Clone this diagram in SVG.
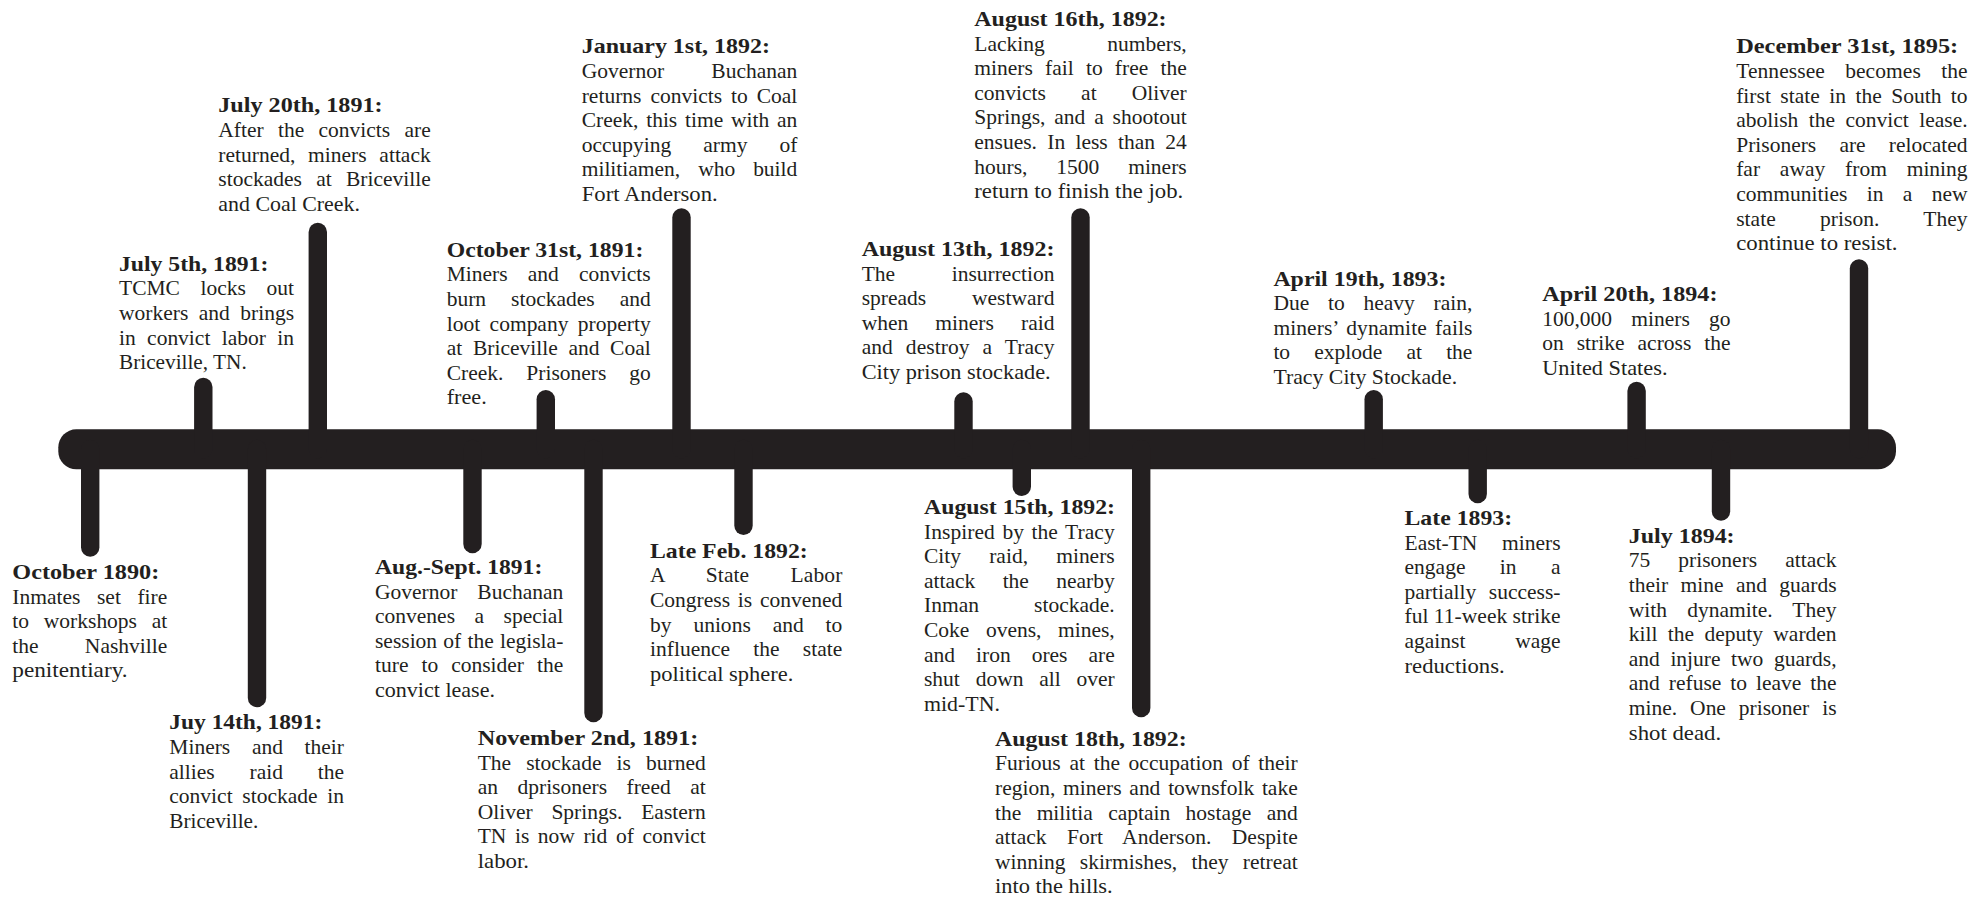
<svg xmlns="http://www.w3.org/2000/svg" width="1983" height="897" viewBox="0 0 1983 897">
<style>
text{font-family:'Liberation Serif','Times New Roman',serif;font-size:21.5px;fill:#231f20}
.h{font-weight:bold}
.tick{stroke:#231f20;stroke-width:18.4;stroke-linecap:round;fill:none}
</style>
<rect width="1983" height="897" fill="#ffffff"/>
<g id="connectors">
<rect id="bar" x="58.3" y="429.3" width="1837.7" height="40" rx="18" ry="18" fill="#231f20"/>
<line class="tick" x1="203.3" y1="386.9" x2="203.3" y2="449"/>
<line class="tick" x1="317.8" y1="231.9" x2="317.8" y2="449"/>
<line class="tick" x1="545.8" y1="399.2" x2="545.8" y2="449"/>
<line class="tick" x1="681.5" y1="217.5" x2="681.5" y2="449"/>
<line class="tick" x1="963.5" y1="401.5" x2="963.5" y2="449"/>
<line class="tick" x1="1080.5" y1="217.5" x2="1080.5" y2="449"/>
<line class="tick" x1="1373.7" y1="399.2" x2="1373.7" y2="449"/>
<line class="tick" x1="1636.6" y1="390.9" x2="1636.6" y2="449"/>
<line class="tick" x1="1859" y1="268.5" x2="1859" y2="449"/>
<line class="tick" x1="90.2" y1="449" x2="90.2" y2="547.5"/>
<line class="tick" x1="257" y1="449" x2="257" y2="698.1"/>
<line class="tick" x1="472.5" y1="449" x2="472.5" y2="544.1"/>
<line class="tick" x1="593.5" y1="449" x2="593.5" y2="713.1"/>
<line class="tick" x1="743.5" y1="449" x2="743.5" y2="525.8"/>
<line class="tick" x1="1021.8" y1="449" x2="1021.8" y2="486.8"/>
<line class="tick" x1="1141.2" y1="449" x2="1141.2" y2="708.1"/>
<line class="tick" x1="1477.7" y1="449" x2="1477.7" y2="494.1"/>
<line class="tick" x1="1721" y1="449" x2="1721" y2="511.5"/>
</g>

<g id="oct-1890">
<text class="h" x="12.3" y="579" textLength="147" lengthAdjust="spacingAndGlyphs">October 1890:</text>
<text x="12.3" y="603.6" textLength="155" lengthAdjust="spacing" style="word-spacing:11.2px">Inmates set fire</text>
<text x="12.3" y="628.2" textLength="155" lengthAdjust="spacing" style="word-spacing:9.4px">to workshops at</text>
<text x="12.3" y="652.8" textLength="155" lengthAdjust="spacing" style="word-spacing:40.9px">the Nashville</text>
<text x="12.3" y="677.4" textLength="115.3" lengthAdjust="spacingAndGlyphs">penitentiary.</text>
</g>

<g id="jul-14-1891">
<text class="h" x="169.3" y="729.3" textLength="153" lengthAdjust="spacingAndGlyphs">Juy 14th, 1891:</text>
<text x="169.3" y="753.9" textLength="174.7" lengthAdjust="spacing" style="word-spacing:16.3px">Miners and their</text>
<text x="169.3" y="778.5" textLength="174.7" lengthAdjust="spacing" style="word-spacing:29.4px">allies raid the</text>
<text x="169.3" y="803.1" textLength="174.7" lengthAdjust="spacing" style="word-spacing:4.3px">convict stockade in</text>
<text x="169.3" y="827.7" textLength="89" lengthAdjust="spacingAndGlyphs">Briceville.</text>
</g>

<g id="jul-5-1891">
<text class="h" x="119" y="270.7" textLength="149.3" lengthAdjust="spacingAndGlyphs">July 5th, 1891:</text>
<text x="119" y="295.3" textLength="175" lengthAdjust="spacing" style="word-spacing:15.2px">TCMC locks out</text>
<text x="119" y="319.9" textLength="175" lengthAdjust="spacing" style="word-spacing:5.1px">workers and brings</text>
<text x="119" y="344.5" textLength="175" lengthAdjust="spacing" style="word-spacing:6px">in convict labor in</text>
<text x="119" y="369.1" textLength="127.7" lengthAdjust="spacingAndGlyphs">Briceville, TN.</text>
</g>

<g id="jul-20-1891">
<text class="h" x="218.3" y="112.3" textLength="164.3" lengthAdjust="spacingAndGlyphs">July 20th, 1891:</text>
<text x="218.3" y="136.9" textLength="212.4" lengthAdjust="spacing" style="word-spacing:8.9px">After the convicts are</text>
<text x="218.3" y="161.5" textLength="212.4" lengthAdjust="spacing" style="word-spacing:7.4px">returned, miners attack</text>
<text x="218.3" y="186.1" textLength="212.4" lengthAdjust="spacing" style="word-spacing:8.9px">stockades at Briceville</text>
<text x="218.3" y="210.7" textLength="141.7" lengthAdjust="spacingAndGlyphs">and Coal Creek.</text>
</g>

<g id="aug-sept-1891">
<text class="h" x="375" y="574" textLength="167.3" lengthAdjust="spacingAndGlyphs">Aug.-Sept. 1891:</text>
<text x="375" y="598.6" textLength="188.3" lengthAdjust="spacing" style="word-spacing:14.5px">Governor Buchanan</text>
<text x="375" y="623.2" textLength="188.3" lengthAdjust="spacing" style="word-spacing:14.1px">convenes a special</text>
<text x="375" y="647.8" textLength="188.3" lengthAdjust="spacing" style="word-spacing:0.9px">session of the legisla-</text>
<text x="375" y="672.4" textLength="188.3" lengthAdjust="spacing" style="word-spacing:7.6px">ture to consider the</text>
<text x="375" y="697" textLength="120" lengthAdjust="spacingAndGlyphs">convict lease.</text>
</g>

<g id="oct-31-1891">
<text class="h" x="446.7" y="256.7" textLength="196.7" lengthAdjust="spacingAndGlyphs">October 31st, 1891:</text>
<text x="446.7" y="281.3" textLength="204" lengthAdjust="spacing" style="word-spacing:14.8px">Miners and convicts</text>
<text x="446.7" y="305.9" textLength="204" lengthAdjust="spacing" style="word-spacing:19.6px">burn stockades and</text>
<text x="446.7" y="330.5" textLength="204" lengthAdjust="spacing" style="word-spacing:4.1px">loot company property</text>
<text x="446.7" y="355.1" textLength="204" lengthAdjust="spacing" style="word-spacing:5.3px">at Briceville and Coal</text>
<text x="446.7" y="379.7" textLength="204" lengthAdjust="spacing" style="word-spacing:17.5px">Creek. Prisoners go</text>
<text x="446.7" y="404.3" textLength="40" lengthAdjust="spacingAndGlyphs">free.</text>
</g>

<g id="jan-1-1892">
<text class="h" x="581.7" y="53.3" textLength="188.3" lengthAdjust="spacingAndGlyphs">January 1st, 1892:</text>
<text x="581.7" y="77.9" textLength="215.6" lengthAdjust="spacing" style="word-spacing:41.8px">Governor Buchanan</text>
<text x="581.7" y="102.5" textLength="215.6" lengthAdjust="spacing" style="word-spacing:3.6px">returns convicts to Coal</text>
<text x="581.7" y="127.1" textLength="215.6" lengthAdjust="spacing" style="word-spacing:2.4px">Creek, this time with an</text>
<text x="581.7" y="151.7" textLength="215.6" lengthAdjust="spacing" style="word-spacing:26.6px">occupying army of</text>
<text x="581.7" y="176.3" textLength="215.6" lengthAdjust="spacing" style="word-spacing:12.6px">militiamen, who build</text>
<text x="581.7" y="200.9" textLength="136" lengthAdjust="spacingAndGlyphs">Fort Anderson.</text>
</g>

<g id="nov-2-1891">
<text class="h" x="477.7" y="745" textLength="220.7" lengthAdjust="spacingAndGlyphs">November 2nd, 1891:</text>
<text x="477.7" y="769.6" textLength="228" lengthAdjust="spacing" style="word-spacing:9.7px">The stockade is burned</text>
<text x="477.7" y="794.2" textLength="228" lengthAdjust="spacing" style="word-spacing:14.1px">an dprisoners freed at</text>
<text x="477.7" y="818.8" textLength="228" lengthAdjust="spacing" style="word-spacing:13.4px">Oliver Springs. Eastern</text>
<text x="477.7" y="843.4" textLength="228" lengthAdjust="spacing" style="word-spacing:3.2px">TN is now rid of convict</text>
<text x="477.7" y="868" textLength="51.3" lengthAdjust="spacingAndGlyphs">labor.</text>
</g>

<g id="late-feb-1892">
<text class="h" x="650" y="557.7" textLength="157.7" lengthAdjust="spacingAndGlyphs">Late Feb. 1892:</text>
<text x="650" y="582.3" textLength="192.3" lengthAdjust="spacing" style="word-spacing:35.8px">A State Labor</text>
<text x="650" y="606.9" textLength="192.3" lengthAdjust="spacing" style="word-spacing:2.4px">Congress is convened</text>
<text x="650" y="631.5" textLength="192.3" lengthAdjust="spacing" style="word-spacing:16.5px">by unions and to</text>
<text x="650" y="656.1" textLength="192.3" lengthAdjust="spacing" style="word-spacing:17.9px">influence the state</text>
<text x="650" y="680.7" textLength="143.3" lengthAdjust="spacingAndGlyphs">political sphere.</text>
</g>

<g id="aug-13-1892">
<text class="h" x="861.7" y="256" textLength="192.7" lengthAdjust="spacingAndGlyphs">August 13th, 1892:</text>
<text x="861.7" y="280.6" textLength="192.7" lengthAdjust="spacing" style="word-spacing:51.2px">The insurrection</text>
<text x="861.7" y="305.2" textLength="192.7" lengthAdjust="spacing" style="word-spacing:40.4px">spreads westward</text>
<text x="861.7" y="329.8" textLength="192.7" lengthAdjust="spacing" style="word-spacing:21.7px">when miners raid</text>
<text x="861.7" y="354.4" textLength="192.7" lengthAdjust="spacing" style="word-spacing:7.5px">and destroy a Tracy</text>
<text x="861.7" y="379" textLength="189" lengthAdjust="spacingAndGlyphs">City prison stockade.</text>
</g>

<g id="aug-16-1892">
<text class="h" x="974.3" y="26" textLength="192.3" lengthAdjust="spacingAndGlyphs">August 16th, 1892:</text>
<text x="974.3" y="50.6" textLength="212.4" lengthAdjust="spacing" style="word-spacing:57.1px">Lacking numbers,</text>
<text x="974.3" y="75.2" textLength="212.4" lengthAdjust="spacing" style="word-spacing:6.8px">miners fail to free the</text>
<text x="974.3" y="99.8" textLength="212.4" lengthAdjust="spacing" style="word-spacing:29.8px">convicts at Oliver</text>
<text x="974.3" y="124.4" textLength="212.4" lengthAdjust="spacing" style="word-spacing:3.5px">Springs, and a shootout</text>
<text x="974.3" y="149" textLength="212.4" lengthAdjust="spacing" style="word-spacing:4.9px">ensues. In less than 24</text>
<text x="974.3" y="173.6" textLength="212.4" lengthAdjust="spacing" style="word-spacing:23.5px">hours, 1500 miners</text>
<text x="974.3" y="198.2" textLength="209" lengthAdjust="spacingAndGlyphs">return to finish the job.</text>
</g>

<g id="aug-15-1892">
<text class="h" x="924" y="514" textLength="191" lengthAdjust="spacingAndGlyphs">August 15th, 1892:</text>
<text x="924" y="538.6" textLength="190.7" lengthAdjust="spacing" style="word-spacing:2.1px">Inspired by the Tracy</text>
<text x="924" y="563.2" textLength="190.7" lengthAdjust="spacing" style="word-spacing:22.8px">City raid, miners</text>
<text x="924" y="587.8" textLength="190.7" lengthAdjust="spacing" style="word-spacing:21.9px">attack the nearby</text>
<text x="924" y="612.4" textLength="190.7" lengthAdjust="spacing" style="word-spacing:49.8px">Inman stockade.</text>
<text x="924" y="637" textLength="190.7" lengthAdjust="spacing" style="word-spacing:11.1px">Coke ovens, mines,</text>
<text x="924" y="661.6" textLength="190.7" lengthAdjust="spacing" style="word-spacing:15.6px">and iron ores are</text>
<text x="924" y="686.2" textLength="190.7" lengthAdjust="spacing" style="word-spacing:10.4px">shut down all over</text>
<text x="924" y="710.8" textLength="76" lengthAdjust="spacingAndGlyphs">mid-TN.</text>
</g>

<g id="aug-18-1892">
<text class="h" x="995" y="745.7" textLength="191.7" lengthAdjust="spacingAndGlyphs">August 18th, 1892:</text>
<text x="995" y="770.3" textLength="302.7" lengthAdjust="spacing" style="word-spacing:3.3px">Furious at the occupation of their</text>
<text x="995" y="794.9" textLength="302.7" lengthAdjust="spacing" style="word-spacing:2.4px">region, miners and townsfolk take</text>
<text x="995" y="819.5" textLength="302.7" lengthAdjust="spacing" style="word-spacing:10px">the militia captain hostage and</text>
<text x="995" y="844.1" textLength="302.7" lengthAdjust="spacing" style="word-spacing:14.9px">attack Fort Anderson. Despite</text>
<text x="995" y="868.7" textLength="302.7" lengthAdjust="spacing" style="word-spacing:8.9px">winning skirmishes, they retreat</text>
<text x="995" y="893.3" textLength="117.7" lengthAdjust="spacingAndGlyphs">into the hills.</text>
</g>

<g id="apr-19-1893">
<text class="h" x="1273.4" y="285.5" textLength="173" lengthAdjust="spacingAndGlyphs">April 19th, 1893:</text>
<text x="1273.4" y="310.1" textLength="199" lengthAdjust="spacing" style="word-spacing:13.4px">Due to heavy rain,</text>
<text x="1273.4" y="334.7" textLength="199" lengthAdjust="spacing" style="word-spacing:2.8px">miners’ dynamite fails</text>
<text x="1273.4" y="359.3" textLength="199" lengthAdjust="spacing" style="word-spacing:18.8px">to explode at the</text>
<text x="1273.4" y="383.9" textLength="183.7" lengthAdjust="spacingAndGlyphs">Tracy City Stockade.</text>
</g>

<g id="apr-20-1894">
<text class="h" x="1542.2" y="301" textLength="175.3" lengthAdjust="spacingAndGlyphs">April 20th, 1894:</text>
<text x="1542.2" y="325.6" textLength="188.4" lengthAdjust="spacing" style="word-spacing:13.9px">100,000 miners go</text>
<text x="1542.2" y="350.2" textLength="188.4" lengthAdjust="spacing" style="word-spacing:7.7px">on strike across the</text>
<text x="1542.2" y="374.8" textLength="125.3" lengthAdjust="spacingAndGlyphs">United States.</text>
</g>

<g id="dec-31-1895">
<text class="h" x="1736.2" y="53.3" textLength="222" lengthAdjust="spacingAndGlyphs">December 31st, 1895:</text>
<text x="1736.2" y="77.9" textLength="231.4" lengthAdjust="spacing" style="word-spacing:14.8px">Tennessee becomes the</text>
<text x="1736.2" y="102.5" textLength="231.4" lengthAdjust="spacing" style="word-spacing:4.1px">first state in the South to</text>
<text x="1736.2" y="127.1" textLength="231.4" lengthAdjust="spacing" style="word-spacing:5.1px">abolish the convict lease.</text>
<text x="1736.2" y="151.7" textLength="231.4" lengthAdjust="spacing" style="word-spacing:17.8px">Prisoners are relocated</text>
<text x="1736.2" y="176.3" textLength="231.4" lengthAdjust="spacing" style="word-spacing:14.4px">far away from mining</text>
<text x="1736.2" y="200.9" textLength="231.4" lengthAdjust="spacing" style="word-spacing:14px">communities in a new</text>
<text x="1736.2" y="225.5" textLength="231.4" lengthAdjust="spacing" style="word-spacing:39px">state prison. They</text>
<text x="1736.2" y="250.1" textLength="161.3" lengthAdjust="spacingAndGlyphs">continue to resist.</text>
</g>

<g id="late-1893">
<text class="h" x="1404.5" y="525" textLength="107.6" lengthAdjust="spacingAndGlyphs">Late 1893:</text>
<text x="1404.5" y="549.6" textLength="156" lengthAdjust="spacing" style="word-spacing:19.2px">East-TN miners</text>
<text x="1404.5" y="574.2" textLength="156" lengthAdjust="spacing" style="word-spacing:29px">engage in a</text>
<text x="1404.5" y="598.8" textLength="156" lengthAdjust="spacing" style="word-spacing:7.3px">partially success-</text>
<text x="1404.5" y="623.4" textLength="156" lengthAdjust="spacing" style="word-spacing:-0.2px">ful 11-week strike</text>
<text x="1404.5" y="648" textLength="156" lengthAdjust="spacing" style="word-spacing:44.3px">against wage</text>
<text x="1404.5" y="672.6" textLength="100.2" lengthAdjust="spacingAndGlyphs">reductions.</text>
</g>

<g id="jul-1894">
<text class="h" x="1628.8" y="542.7" textLength="105.8" lengthAdjust="spacingAndGlyphs">July 1894:</text>
<text x="1628.8" y="567.3" textLength="207.8" lengthAdjust="spacing" style="word-spacing:22.7px">75 prisoners attack</text>
<text x="1628.8" y="591.9" textLength="207.8" lengthAdjust="spacing" style="word-spacing:7px">their mine and guards</text>
<text x="1628.8" y="616.5" textLength="207.8" lengthAdjust="spacing" style="word-spacing:14.6px">with dynamite. They</text>
<text x="1628.8" y="641.1" textLength="207.8" lengthAdjust="spacing" style="word-spacing:5px">kill the deputy warden</text>
<text x="1628.8" y="665.7" textLength="207.8" lengthAdjust="spacing" style="word-spacing:5.2px">and injure two guards,</text>
<text x="1628.8" y="690.3" textLength="207.8" lengthAdjust="spacing" style="word-spacing:3.6px">and refuse to leave the</text>
<text x="1628.8" y="714.9" textLength="207.8" lengthAdjust="spacing" style="word-spacing:7.6px">mine. One prisoner is</text>
<text x="1628.8" y="739.5" textLength="92.3" lengthAdjust="spacingAndGlyphs">shot dead.</text>
</g>
</svg>
